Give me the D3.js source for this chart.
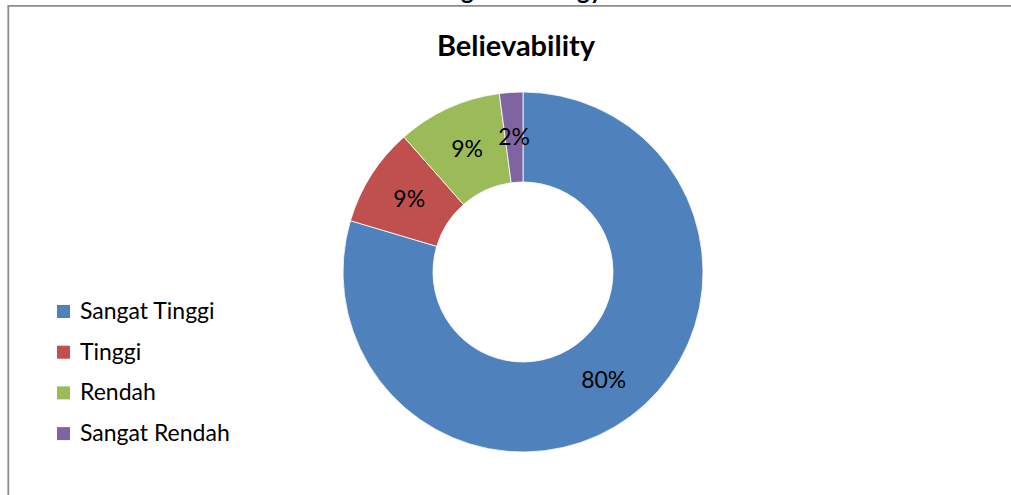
<!DOCTYPE html>
<html>
<head>
<meta charset="utf-8">
<script src="https://cdn.jsdelivr.net/npm/d3@7"></script>
<style>
  body { margin: 0; background: #fff; }
  svg { display: block; font-family: Lato, "Open Sans", sans-serif; }
</style>
</head>
<body>
<div id="chart"></div>
<script>
const categories = ['Sangat Tinggi', 'Tinggi', 'Rendah', 'Sangat Rendah'];
const values = [79.6, 8.9, 9.4, 2.1];
const labels = ['80%', '9%', '9%', '2%'];
const colors = ['#4F81BD', '#C0504D', '#9BBB59', '#8064A2'];

const width = 1011, height = 495;
const cx = 523, cy = 272, outerR = 180, innerR = 90;

const svg = d3.select('#chart').append('svg')
    .attr('width', width)
    .attr('height', height);

// frame of the chart area (only left and top edges are visible)
svg.append('path')
    .attr('d', `M8.3,${height} V5.8 H${width}`)
    .attr('fill', 'none')
    .attr('stroke', '#8c8c8c')
    .attr('stroke-width', 1.8);

// heading above the frame, cut off by the page edge
svg.append('text')
    .attr('y', -1)
    .attr('font-weight', 'bold')
    .attr('font-size', 24)
    .attr('fill', '#000')
    .call(t => {
        t.append('tspan').attr('x', 461).text('g');
        t.append('tspan').attr('x', 577).text('gy');
    });

svg.append('text')
    .attr('x', 516)
    .attr('y', 56)
    .attr('text-anchor', 'middle')
    .attr('font-weight', 'bold')
    .attr('font-size', 29)
    .attr('fill', '#000')
    .text('Believability');

const pie = d3.pie().sort(null).value(d => d);
const arcs = pie(values);
const arc = d3.arc().innerRadius(innerR).outerRadius(outerR);
const labelArc = d3.arc().innerRadius((innerR + outerR) / 2).outerRadius((innerR + outerR) / 2);

const g = svg.append('g').attr('transform', `translate(${cx},${cy})`);

g.selectAll('path.slice')
    .data(arcs)
    .enter().append('path')
    .attr('class', 'slice')
    .attr('d', arc)
    .attr('fill', (d, i) => colors[i])
    .attr('stroke', '#fff')
    .attr('stroke-width', 0.8);

g.selectAll('text.lbl')
    .data(arcs)
    .enter().append('text')
    .attr('class', 'lbl')
    .attr('transform', d => `translate(${labelArc.centroid(d)})`)
    .attr('text-anchor', 'middle')
    .attr('dy', '0.35em')
    .attr('font-size', 23)
    .attr('fill', '#000')
    .text((d, i) => labels[i]);

// legend
const legend = svg.append('g').attr('transform', 'translate(57,311)');
const rows = legend.selectAll('g')
    .data(categories)
    .enter().append('g')
    .attr('transform', (d, i) => `translate(0,${i * 40.7})`);

rows.append('rect')
    .attr('x', 0)
    .attr('y', -6)
    .attr('width', 13)
    .attr('height', 13)
    .attr('fill', (d, i) => colors[i]);

rows.append('text')
    .attr('x', 23)
    .attr('dy', '0.35em')
    .attr('font-size', 23)
    .attr('fill', '#000')
    .text(d => d);
</script>
</body>
</html>
